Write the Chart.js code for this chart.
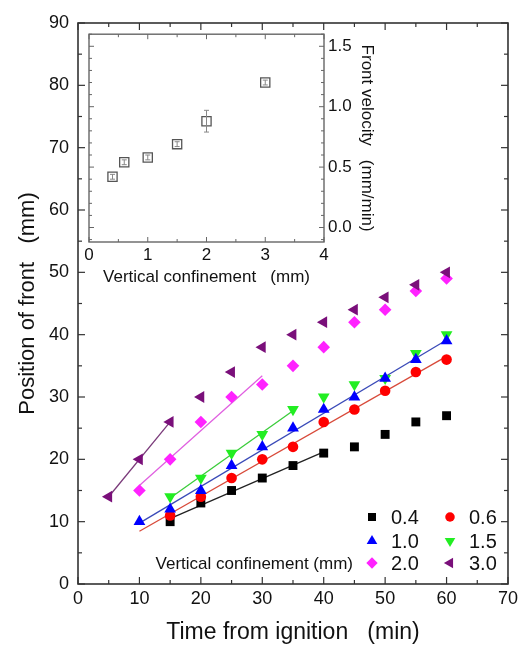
<!DOCTYPE html>
<html><head><meta charset="utf-8">
<script src="https://cdn.jsdelivr.net/npm/chart.js@4.4.0/dist/chart.umd.min.js"></script>
<style>
html,body{margin:0;padding:0;background:#fff;}
#wrap{position:relative;width:522px;height:655px;overflow:hidden;}
#main{position:absolute;left:0;top:0;}
#inset{position:absolute;left:70px;top:20px;}
</style></head><body>
<div id="wrap"><canvas id="main" width="522" height="655"></canvas><canvas id="inset" width="310" height="270"></canvas></div>
<script>
// ---------- data ----------
const timeMin = [5, 10, 15, 20, 25, 30, 35, 40, 45, 50, 55, 60];
const confinementLabels = ['0.4', '0.6', '1.0', '1.5', '2.0', '3.0'];
const pos04 = [null, null, 10, 13, 15, 17, 19, 21, 22, 24, 26, 27];
const pos06 = [null, null, 11, 14, 17, 20, 22, 26, 28, 31, 34, 36];
const pos10 = [null, 10, 12, 15, 19, 22, 25, 28, 30, 33, 36, 39];
const pos15 = [null, null, 14, 17, 21, 24, 28, 30, 32, 33, 37, 40];
const pos20 = [null, 15, 20, 26, 30, 32, 35, 38, 42, 44, 47, 49];
const pos30 = [14, 20, 26, 30, 34, 38, 40, 42, 44, 46, 48, 50];
const fitFrom = [15, 15, 10, 15, 10, 5];
const fitTo = [40, 60, 60, 35, 30, 15];
const lineFrom = [15, 10, 10, 15, 10, 5];
const xTicksMain = [0, 10, 20, 30, 40, 50, 60, 70];
const yTicksMain = [0, 10, 20, 30, 40, 50, 60, 70, 80, 90];

const confinementMm = [0.4, 0.6, 1.0, 1.5, 2.0, 3.0];
const frontVelocity = [0.42, 0.54, 0.58, 0.69, 0.88, 1.20];
const velocityErr = [0.02, 0.02, 0.02, 0.02, 0.09, 0.02];
const xTicksInset = [0, 1, 2, 3, 4];
const yTicksInset = [0, 0.5, 1.0, 1.5];

// ---------- styles ----------
const FONT = "'Liberation Sans', Arial, Helvetica, sans-serif";
Chart.defaults.font.family = FONT;
Chart.defaults.color = '#111';
const seriesValues = [pos04, pos06, pos10, pos15, pos20, pos30];
const markerColors = ['#000000', '#ff0000', '#0000ff', '#22ee22', '#ff22ff', '#7a0f7a'];
const lineColors = ['#222222', '#d84a3a', '#3a4ab8', '#3acc3a', '#e060e0', '#7a3a7a'];
const markerStyles = ['rect', 'circle', 'triangle', 'triangle', 'rectRot', 'triangle'];
const markerRot = [0, 0, 0, 180, 0, -90];
const markerRadius = [6.3, 5.3, 6.8, 6.8, 6.3, 6.8];
const drawOrder = [6, 5, 3, 4, 2, 1]; // lower = drawn on top

function linFit(xs, ys, a, b) {
  let n = 0, sx = 0, sy = 0, sxx = 0, sxy = 0;
  xs.forEach((x, i) => {
    const y = ys[i];
    if (y === null || x < a || x > b) return;
    n++; sx += x; sy += y; sxx += x * x; sxy += x * y;
  });
  const slope = (n * sxy - sx * sy) / (n * sxx - sx * sx);
  const icpt = (sy - slope * sx) / n;
  return { slope, icpt };
}

const datasets = [];
seriesValues.forEach((vals, i) => {
  const f = linFit(timeMin, vals, fitFrom[i], fitTo[i]);
  datasets.push({
    type: 'line', label: 'fit ' + confinementLabels[i],
    data: [lineFrom[i], fitTo[i]].map(x => ({ x, y: f.icpt + f.slope * x })),
    borderColor: lineColors[i], borderWidth: 1.3, pointRadius: 0, fill: false, order: 20 + i
  });
});
seriesValues.forEach((vals, i) => {
  datasets.push({
    type: 'scatter', label: confinementLabels[i],
    data: timeMin.map((t, k) => ({ x: t, y: vals[k] })).filter(p => p.y !== null),
    backgroundColor: markerColors[i], borderColor: markerColors[i], borderWidth: 0,
    pointStyle: markerStyles[i], rotation: markerRot[i], pointRadius: markerRadius[i],
    order: drawOrder[i]
  });
});

// frame + inward ticks plugin
const framePlugin = {
  id: 'frame',
  afterDraw(chart, args, o) {
    const { ctx, chartArea: a } = chart;
    const xs = chart.scales.x, ys = chart.scales.y;
    ctx.save();
    ctx.strokeStyle = o.color; ctx.lineWidth = o.width;
    ctx.strokeRect(a.left, a.top, a.right - a.left, a.bottom - a.top);
    ctx.lineWidth = o.tickWidth;
    const seg = (x1, y1, x2, y2) => { ctx.beginPath(); ctx.moveTo(x1, y1); ctx.lineTo(x2, y2); ctx.stroke(); };
    const xt = (vals, len) => vals.forEach(v => { const p = xs.getPixelForValue(v); seg(p, a.bottom, p, a.bottom - len); seg(p, a.top, p, a.top + len); });
    const yt = (vals, len) => vals.forEach(v => { const p = ys.getPixelForValue(v); seg(a.left, p, a.left + len, p); seg(a.right, p, a.right - len, p); });
    xt(o.xMajor, o.majorLen); xt(o.xMinor, o.minorLen);
    yt(o.yMajor, o.majorLen); yt(o.yMinor, o.minorLen);
    ctx.restore();
  }
};

const titlePlugin = {
  id: 'titles',
  afterDraw(chart, args, o) {
    const { ctx, chartArea: a } = chart;
    ctx.save();
    ctx.fillStyle = '#111';
    ctx.font = o.xFont + 'px ' + FONT;
    ctx.textAlign = 'center'; ctx.textBaseline = 'middle';
    ctx.fillText(o.xText, (a.left + a.right) / 2, o.xY);
    ctx.translate(o.yX, (a.top + a.bottom) / 2);
    ctx.rotate(o.yRot * Math.PI / 180);
    ctx.font = o.yFont + 'px ' + FONT;
    ctx.fillText(o.yText, 0, 0);
    ctx.restore();
  }
};

const legendPlugin = {
  id: 'customLegend',
  afterDraw(chart, args, o) {
    const ctx = chart.ctx;
    ctx.save();
    const rows = [517, 541, 563], colM = [372, 450], colT = [391, 469];
    confinementLabels.forEach((lab, i) => {
      const r = Math.floor(i / 2), c = i % 2;
      ctx.fillStyle = markerColors[i]; ctx.strokeStyle = markerColors[i];
      Chart.helpers.drawPoint(ctx, { pointStyle: markerStyles[i], rotation: markerRot[i], radius: markerRadius[i] * 0.9, borderWidth: 0 }, colM[c], rows[r]);
      ctx.fillStyle = '#111';
      ctx.font = '20px ' + FONT; ctx.textAlign = 'left'; ctx.textBaseline = 'middle';
      ctx.fillText(lab, colT[c], rows[r] + 1);
    });
    ctx.font = '17px ' + FONT; ctx.textAlign = 'right'; ctx.textBaseline = 'middle';
    ctx.fillText('Vertical confinement (mm)', 353, rows[2] + 1);
    ctx.restore();
  }
};

const mainChart = new Chart(document.getElementById('main'), {
  type: 'scatter',
  data: { datasets },
  plugins: [framePlugin, titlePlugin, legendPlugin],
  options: {
    responsive: false, animation: false, devicePixelRatio: 1,
    layout: { padding: { left: 0, right: 13, top: 23, bottom: 0 } },
    plugins: {
      legend: { display: false }, tooltip: { enabled: false },
      frame: { color: '#333', width: 1.6, tickWidth: 1.2, majorLen: 7, minorLen: 4,
        xMajor: xTicksMain, xMinor: xTicksMain.slice(0, -1).map(v => v + 5),
        yMajor: yTicksMain, yMinor: yTicksMain.slice(0, -1).map(v => v + 5) },
      titles: { xText: 'Time from ignition   (min)', xFont: 23, xY: 633,
        yText: 'Position of front   (mm)', yFont: 22, yX: 28, yRot: -90 }
    },
    scales: {
      x: { type: 'linear', min: 0, max: 70,
        afterBuildTicks: s => { s.ticks = xTicksMain.map(v => ({ value: v })); },
        afterFit: s => { s.height = 71; },
        grid: { display: false, drawTicks: false }, border: { display: false },
        ticks: { font: { size: 18 }, color: '#111', padding: 4, maxRotation: 0 } },
      y: { type: 'linear', min: 0, max: 90,
        afterBuildTicks: s => { s.ticks = yTicksMain.map(v => ({ value: v })); },
        afterFit: s => { s.width = 78; },
        grid: { display: false, drawTicks: false }, border: { display: false },
        ticks: { font: { size: 18 }, color: '#111', padding: 9 } }
    }
  }
});

// ---------- inset ----------
const errPlugin = {
  id: 'errbars',
  afterDatasetsDraw(chart) {
    const { ctx } = chart; const xs = chart.scales.x, ys = chart.scales.y;
    ctx.save(); ctx.strokeStyle = '#888'; ctx.lineWidth = 1;
    confinementMm.forEach((x, i) => {
      const px = xs.getPixelForValue(x);
      const y1 = ys.getPixelForValue(frontVelocity[i] + velocityErr[i]);
      const y2 = ys.getPixelForValue(frontVelocity[i] - velocityErr[i]);
      ctx.beginPath();
      ctx.moveTo(px, y1); ctx.lineTo(px, y2);
      ctx.moveTo(px - 2.5, y1); ctx.lineTo(px + 2.5, y1);
      ctx.moveTo(px - 2.5, y2); ctx.lineTo(px + 2.5, y2);
      ctx.stroke();
    });
    ctx.restore();
  }
};

const insetChart = new Chart(document.getElementById('inset'), {
  type: 'scatter',
  data: { datasets: [{
    label: 'Front velocity',
    data: confinementMm.map((x, i) => ({ x, y: frontVelocity[i] })),
    pointStyle: 'rect', pointRadius: 6.5, backgroundColor: 'rgba(255,255,255,0)',
    borderColor: '#555', borderWidth: 1.3
  }] },
  plugins: [framePlugin, titlePlugin, errPlugin],
  options: {
    responsive: false, animation: false, devicePixelRatio: 1,
    layout: { padding: { left: 19, right: 0, top: 14, bottom: 0 } },
    plugins: {
      legend: { display: false }, tooltip: { enabled: false },
      frame: { color: '#666', width: 1.4, tickWidth: 1, majorLen: 5, minorLen: 3,
        xMajor: xTicksInset, xMinor: xTicksInset.slice(0, -1).map(v => v + 0.5),
        yMajor: yTicksInset, yMinor: [-0.1, 0.1, 0.2, 0.3, 0.4, 0.6, 0.7, 0.8, 0.9, 1.1, 1.2, 1.3, 1.4, 1.6] },
      titles: { xText: 'Vertical confinement   (mm)', xFont: 17, xY: 257,
        yText: 'Front velocity   (mm/min)', yFont: 17, yX: 297, yRot: 90 }
    },
    scales: {
      x: { type: 'linear', min: 0, max: 4,
        afterBuildTicks: s => { s.ticks = xTicksInset.map(v => ({ value: v })); },
        afterFit: s => { s.height = 48; },
        grid: { display: false, drawTicks: false }, border: { display: false },
        ticks: { font: { size: 17 }, color: '#111', padding: 3, maxRotation: 0,
          callback: v => String(v) } },
      y: { type: 'linear', position: 'right', min: -0.12, max: 1.6,
        afterBuildTicks: s => { s.ticks = yTicksInset.map(v => ({ value: v })); },
        afterFit: s => { s.width = 56; },
        grid: { display: false, drawTicks: false }, border: { display: false },
        ticks: { font: { size: 17 }, color: '#111', padding: 4,
          callback: v => Number(v).toFixed(1) } }
    }
  }
});
</script>
</body></html>
